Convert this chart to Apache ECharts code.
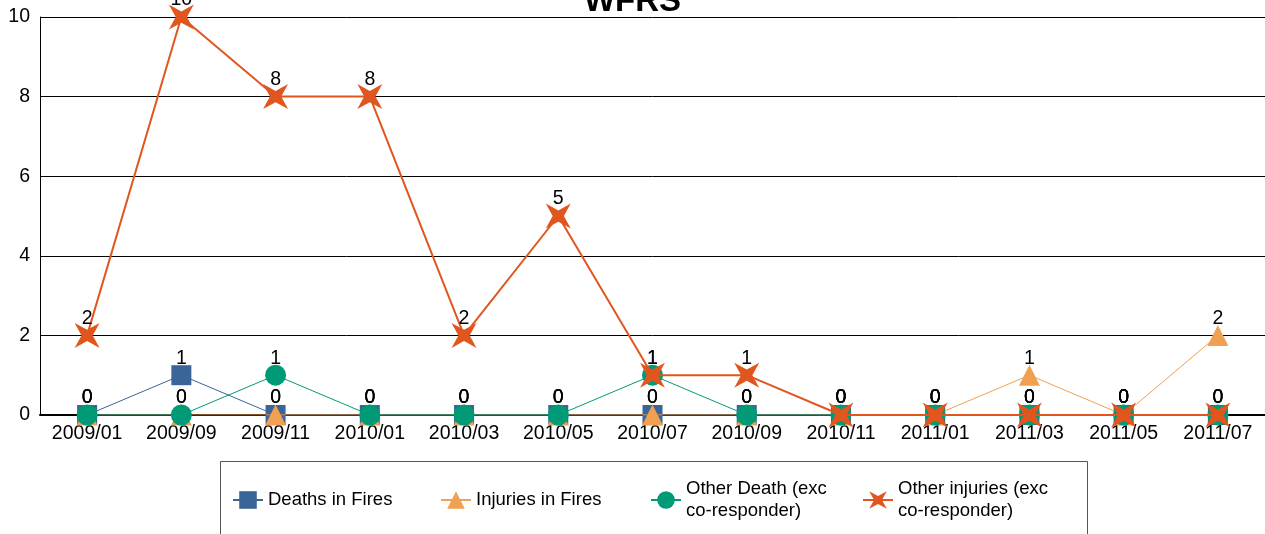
<!DOCTYPE html>
<html>
<head>
<meta charset="utf-8">
<script src="https://cdn.jsdelivr.net/npm/echarts@6/dist/echarts.min.js"></script>
<style>
  html, body { margin: 0; padding: 0; background: #fff; }
  #chart { width: 1265px; height: 534px; }
</style>
</head>
<body>
<div id="chart"></div>
<script>
const months = ["2009/01", "2009/09", "2009/11", "2010/01", "2010/03", "2010/05", "2010/07",
  "2010/09", "2010/11", "2011/01", "2011/03", "2011/05", "2011/07"];
const deathsInFires = [0, 1, 0, 0, 0, 0, 0, 0, 0, 0, 0, 0, 0];
const injuriesInFires = [0, 0, 0, 0, 0, 0, 0, 0, 0, 0, 1, 0, 2];
const otherDeath = [0, 0, 1, 0, 0, 0, 1, 0, 0, 0, 0, 0, 0];
const otherInjuries = [2, 10, 8, 8, 2, 5, 1, 1, 0, 0, 0, 0, 0];

const starPath = "path://M-10,-10 L0,-4.5 L10,-10 L4.5,0 L10,10 L0,4.5 L-10,10 L-4.5,0 Z";
const font = "Liberation Sans, Arial, sans-serif";
const fs = 19.5;

const chart = echarts.init(document.getElementById("chart"));

function mkSeries(name, data, color, symbol, size, width, z) {
  return {
    name: name,
    type: "line",
    data: data,
    symbol: symbol,
    symbolSize: size,
    z: z,
    lineStyle: { color: color, width: width },
    itemStyle: { color: color },
    label: {
      show: true,
      position: "top",
      distance: 7 - size / 2,
      color: "#000",
      fontSize: fs,
      fontFamily: font
    },
    animation: false
  };
}

function mkLegend(name, left, twoLines) {
  return {
    data: [name],
    left: left,
    top: twoLines ? 473 : 484,
    padding: 5,
    itemWidth: 30,
    itemHeight: 22,
    itemGap: 0,
    textStyle: { color: "#000", fontSize: 18.5, fontFamily: font, lineHeight: 22 }
  };
}

chart.setOption({
  animation: false,
  title: {
    text: "WFRS",
    left: "center",
    top: -20,
    textStyle: { fontSize: 33, fontWeight: "bold", color: "#000", fontFamily: font }
  },
  grid: { left: 40, right: -1, top: 17, bottom: 119, containLabel: false },
  xAxis: {
    type: "category",
    data: months,
    boundaryGap: true,
    axisLine: { lineStyle: { color: "#000", width: 2 } },
    axisTick: { show: false },
    axisLabel: { color: "#000", fontSize: fs, fontFamily: font, margin: 9 }
  },
  yAxis: {
    type: "value",
    min: 0,
    max: 10,
    interval: 2,
    axisLine: { show: true, lineStyle: { color: "#000", width: 1 } },
    axisTick: { show: false },
    axisLabel: { color: "#000", fontSize: fs, fontFamily: font, margin: 10 },
    splitLine: { lineStyle: { color: "#000", width: 1 } }
  },
  graphic: [{
    type: "rect",
    shape: { x: 220.5, y: 461.5, width: 867, height: 100 },
    style: { fill: "#fff", stroke: "#555", lineWidth: 1 },
    z: -1
  }],
  legend: [
    mkLegend("Deaths in Fires", 227, false),
    mkLegend("Injuries in Fires", 435, false),
    mkLegend("Other Death (exc\nco-responder)", 645, true),
    mkLegend("Other injuries (exc\nco-responder)", 857, true)
  ],
  series: [
    mkSeries("Deaths in Fires", deathsInFires, "#3a6598", "rect", 20, 1, 2),
    mkSeries("Injuries in Fires", injuriesInFires, "#f0a050", "triangle", 21, 1, 3),
    mkSeries("Other Death (exc\nco-responder)", otherDeath, "#009a77", "circle", 21, 1, 4),
    mkSeries("Other injuries (exc\nco-responder)", otherInjuries, "#e0561e", starPath, 25, 2, 5)
  ]
});
</script>
</body>
</html>
